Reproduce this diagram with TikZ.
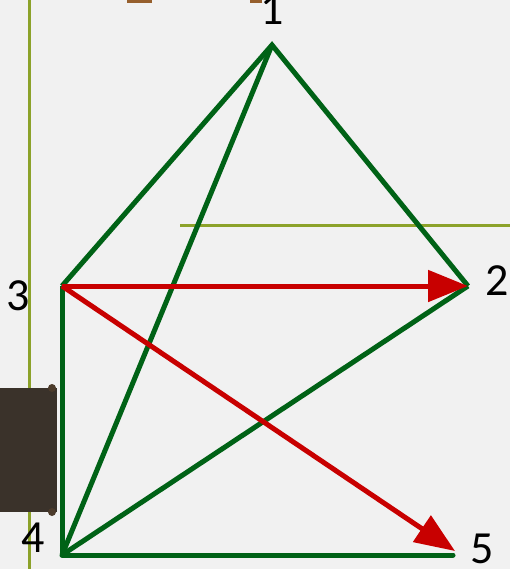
\documentclass[tikz,border=0pt]{standalone}
\usepackage{fontspec}
\setmainfont{Carlito}
\usetikzlibrary{arrows.meta}
\definecolor{bgc}{RGB}{241,241,241}
\definecolor{edgegreen}{RGB}{0,98,22}
\definecolor{arrowred}{RGB}{200,0,0}
\definecolor{olive}{RGB}{140,162,42}
\definecolor{darkbox}{RGB}{58,50,42}
\definecolor{bronze}{RGB}{150,95,45}
\begin{document}
\begin{tikzpicture}[x=1pt,y=-1pt,
  edge/.style={draw=edgegreen,line width=5pt},
  redarrow/.style={draw=arrowred,line width=5pt,-{Triangle[length=40pt,width=31pt]}},
  guide/.style={draw=olive,line width=3pt},
  lbl/.style={font=\fontsize{46}{46}\selectfont,inner sep=0pt,anchor=base,text=black}]
\useasboundingbox (0,0) rectangle (510,569);
\fill[bgc] (0,0) rectangle (510,569);
% guide lines
\draw[guide] (29,0) -- (29,569);
\draw[guide] (180,225) -- (510,225);
% decorative bits
\fill[bronze] (127,0) rectangle (152,3);
\fill[bronze] (250,0) rectangle (262,3);
\fill[darkbox] (0,388) rectangle (57,512);
\fill[darkbox!80!bronze] (52,388) circle (4);
\fill[darkbox!80!bronze] (52,512) circle (4);
% vertices
\coordinate (p1) at (272,45);
\coordinate (p2) at (468,286);
\coordinate (p3) at (62,286);
\coordinate (p4) at (62,555);
\coordinate (p5) at (455,551);
\coordinate (p5e) at (453,555);
% green edges
\draw[edge] (p3) -- (p1) -- (p2);
\draw[edge] (p1) -- (p4);
\draw[edge] (p3) -- (p4);
\draw[edge] (p4) -- (p2);
\draw[edge,line cap=round] (p4) -- (p5e);
% red arrows
\draw[redarrow] (p3) -- (p2);
\draw[redarrow] (p3) -- (p5);
% labels
\node[lbl] (l1) at (272,25) {1};
\node[lbl] (l2) at (497,295) {2};
\node[lbl] (l3) at (18,310) {3};
\node[lbl] (l4) at (33,552) {4};
\node[lbl] (l5) at (482,563) {5};
\end{tikzpicture}
\end{document}
